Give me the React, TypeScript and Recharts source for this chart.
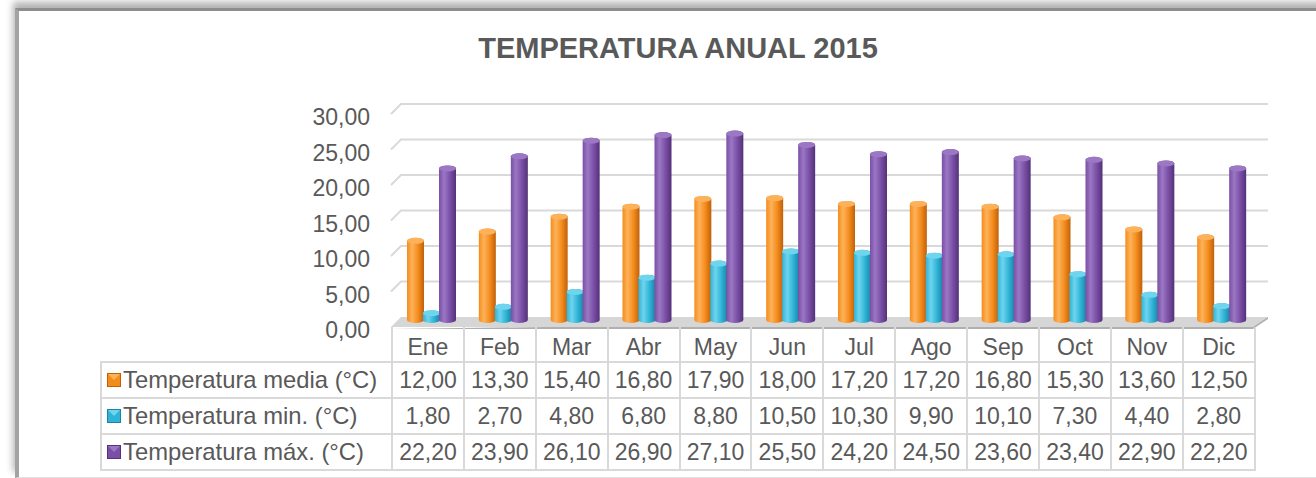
import React from 'react';
import { BarChart, Bar, XAxis, YAxis, CartesianGrid } from 'recharts';

const months = ['Ene', 'Feb', 'Mar', 'Abr', 'May', 'Jun', 'Jul', 'Ago', 'Sep', 'Oct', 'Nov', 'Dic'];
const tempMedia = [12.0, 13.3, 15.4, 16.8, 17.9, 18.0, 17.2, 17.2, 16.8, 15.3, 13.6, 12.5];
const tempMin = [1.8, 2.7, 4.8, 6.8, 8.8, 10.5, 10.3, 9.9, 10.1, 7.3, 4.4, 2.8];
const tempMax = [22.2, 23.9, 26.1, 26.9, 27.1, 25.5, 24.2, 24.5, 23.6, 23.4, 22.9, 22.2];
const yTicks = [0, 5, 10, 15, 20, 25, 30];

const series = [
    { key: 'media', name: 'Temperatura media (°C)', values: tempMedia, base: '#F48C1C', light: '#FDB25A', dark: '#C0600A' },
    { key: 'min', name: 'Temperatura min. (°C)', values: tempMin, base: '#2FB4D8', light: '#6FD4EE', dark: '#1A84A3' },
    { key: 'max', name: 'Temperatura máx. (°C)', values: tempMax, base: '#7A4FA6', light: '#9B77C4', dark: '#543178' },
];

const data = months.map((m, i) => ({
    month: m,
    media: tempMedia[i],
    min: tempMin[i],
    max: tempMax[i],
}));

const FONT = '"Liberation Sans", Arial, sans-serif';
const TEXT = '#595959';
const fmt = (v: number) => v.toFixed(2).replace('.', ',');

// cylinder-ish bar, nudged right a bit like excel's 3d depth
const Cylinder = (gradId: string, top: string) => (props: any) => {
    const { x, y, width: w, height: h } = props;
    if (!h || h <= 0) return null;
    const bx = x + 5;
    const ry = 3;
    const rx = w / 2;
    const d = `M${bx},${y + ry} L${bx},${y + h - ry} A${rx},${ry} 0 0 0 ${bx + w},${y + h - ry} L${bx + w},${y + ry} A${rx},${ry} 0 0 0 ${bx},${y + ry} Z`;
    return (
        <g>
            <path d={d} fill={`url(#${gradId})`} />
            <ellipse cx={bx + rx} cy={y + ry} rx={rx} ry={ry} fill={top} />
        </g>
    );
};

const gridLine = (p: any) => {
    const { x1, y1, x2, index } = p;
    const bottom = p.y != null && p.height != null ? p.y + p.height : null;
    const isFloor = bottom != null ? Math.abs(y1 - bottom) < 1 : index === 0;
    const back = y1 - 6;
    const front = y1 + 4;
    if (isFloor) {
        return (
            <g key={`g-${index}`}>
                <polygon points={`${x1},${front + 2} ${x2},${front + 2} ${x2 + 15},${back + 2} ${x2 + 15},${back}`} fill="#b0b0b0" />
                <polygon points={`${x1},${front} ${x2},${front} ${x2 + 15},${back} ${x1 + 10},${back}`} fill="#d6d6d6" />
            </g>
        );
    }
    return (
        <polyline
            key={`g-${index}`}
            points={`${x1},${front} ${x1 + 10},${back} ${x2 + 15},${back}`}
            fill="none"
            stroke="#d9d9d9"
            strokeWidth={2}
        />
    );
};

const LegendKey: React.FC<{ base: string; light: string; dark: string }> = ({ base, light, dark }) => (
    <svg width={14} height={14} style={{ verticalAlign: 'middle', marginRight: 2, marginBottom: 3 }}>
        <rect x={0.5} y={0.5} width={13} height={13} fill={base} stroke={dark} />
        <polygon points="1,1 13,1 7,7" fill={light} />
    </svg>
);

const cell: React.CSSProperties = {
    border: '2px solid #d9d9d9',
    padding: 0,
    textAlign: 'center',
    color: TEXT,
    fontSize: 23,
    fontFamily: FONT,
    whiteSpace: 'nowrap',
};

const App: React.FC = () => {
    return (
        <div style={{ position: 'fixed', left: 0, top: 0, width: 1316, height: 478, background: '#fff', overflow: 'hidden' }}>
            <div
                style={{
                    position: 'absolute',
                    left: 15,
                    top: 8,
                    width: 1330,
                    height: 466,
                    borderTop: '3px solid #8e8e8e',
                    borderLeft: '4px solid #a3a3a3',
                    borderBottom: '1px solid #e3e3e3',
                    boxShadow: '-2px -6px 7px rgba(0,0,0,0.3)',
                }}
            />
            <div
                style={{
                    position: 'absolute',
                    left: 0,
                    width: 1356,
                    top: 33,
                    textAlign: 'center',
                    fontFamily: FONT,
                    fontWeight: 'bold',
                    fontSize: 29,
                    lineHeight: '30px',
                    color: TEXT,
                }}
            >
                TEMPERATURA ANUAL 2015
            </div>
            <div style={{ position: 'absolute', left: 0, top: 0 }}>
                <BarChart
                    width={1316}
                    height={478}
                    data={data}
                    margin={{ top: 110, right: 63, bottom: 155, left: 311 }}
                    barSize={17}
                    barGap={-1}
                >
                    <defs>
                        {series.map(s => (
                            <linearGradient key={s.key} id={`grad-${s.key}`} x1="0" y1="0" x2="1" y2="0">
                                <stop offset="0%" stopColor={s.base} />
                                <stop offset="30%" stopColor={s.light} />
                                <stop offset="65%" stopColor={s.base} />
                                <stop offset="100%" stopColor={s.dark} />
                            </linearGradient>
                        ))}
                    </defs>
                    <CartesianGrid vertical={false} horizontal={gridLine} />
                    <XAxis dataKey="month" hide />
                    <YAxis
                        width={80}
                        domain={[0, 30]}
                        ticks={yTicks}
                        axisLine={false}
                        tickLine={false}
                        tickSize={0}
                        tickMargin={21}
                        tick={(p: any) => (
                            <text
                                x={p.x}
                                y={p.y + 7}
                                textAnchor="end"
                                dominantBaseline="central"
                                fill={TEXT}
                                fontSize={23}
                                fontFamily={FONT}
                            >
                                {fmt(p.payload.value)}
                            </text>
                        )}
                    />
                    {series.map(s => (
                        <Bar
                            key={s.key}
                            dataKey={s.key}
                            name={s.name}
                            fill={s.base}
                            shape={Cylinder(`grad-${s.key}`, s.light)}
                            isAnimationActive={false}
                        />
                    ))}
                </BarChart>
            </div>
            <table
                style={{
                    position: 'absolute',
                    left: 100,
                    top: 327,
                    width: 1154,
                    borderCollapse: 'collapse',
                    tableLayout: 'fixed',
                }}
            >
                <colgroup>
                    <col style={{ width: 291 }} />
                    {months.map(m => (
                        <col key={m} style={{ width: 71.9 }} />
                    ))}
                </colgroup>
                <tbody>
                    <tr style={{ height: 35 }}>
                        <td style={{ ...cell, borderTop: 'none', borderLeft: 'none' }} />
                        {months.map(m => (
                            <td key={m} style={{ ...cell, borderTop: 'none', paddingTop: 6 }}>
                                {m}
                            </td>
                        ))}
                    </tr>
                    {series.map(s => (
                        <tr key={s.key} style={{ height: 36 }}>
                            <td style={{ ...cell, textAlign: 'left', paddingLeft: 5, fontSize: 23.8 }}>
                                <LegendKey base={s.base} light={s.light} dark={s.dark} />
                                {s.name}
                            </td>
                            {s.values.map((v, i) => (
                                <td key={i} style={cell}>
                                    {fmt(v)}
                                </td>
                            ))}
                        </tr>
                    ))}
                </tbody>
            </table>
        </div>
    );
};

export default App;
